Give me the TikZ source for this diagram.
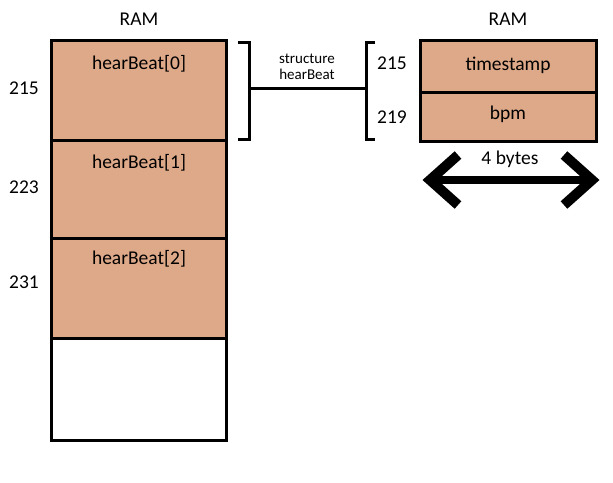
\documentclass[tikz,border=0pt]{standalone}
\usepackage{fontspec}
\setmainfont{Carlito}
\definecolor{peach}{RGB}{222,169,136}
\begin{document}
\begin{tikzpicture}[x=1pt,y=-1pt,
  cell/.style={draw=black,line width=3pt,fill=peach,minimum width=175pt,inner sep=0pt,outer sep=0pt},
  fld/.style={draw=black,line width=3pt,fill=peach,minimum width=176pt,inner sep=0pt,outer sep=0pt},
  lbl/.style={font=\fontsize{19.5}{23}\selectfont,inner sep=0pt},
  brk/.style={line width=3pt},
  big/.style={line width=10pt,line join=miter}]
\useasboundingbox (0,0) rectangle (613,482);
% left column
\node[cell,minimum height=99.5pt,anchor=north west] (c0) at (51.5,40.5) {};
\node[cell,minimum height=98pt,anchor=north west] (c1) at (c0.south west) {};
\node[cell,minimum height=100pt,anchor=north west] (c2) at (c1.south west) {};
\node[cell,fill=white,minimum height=102pt,anchor=north west] (c3) at (c2.south west) {};
\node[lbl] (t0) at (139,64) {hearBeat[0]};
\node[lbl] (t1) at (139,163) {hearBeat[1]};
\node[lbl] (t2) at (139,259) {hearBeat[2]};
\node[lbl] (ram1) at (139,19) {RAM};
\node[lbl] (a0) at (24,88) {215};
\node[lbl] (a1) at (24,187) {223};
\node[lbl] (a2) at (24,282) {231};
% right structure
\node[fld,minimum height=51.5pt,anchor=north west] (f0) at (420.5,40.5) {};
\node[fld,minimum height=49pt,anchor=north west] (f1) at (f0.south west) {};
\node[lbl] (ts) at (508,65) {timestamp};
\node[lbl] (bp) at (508,114) {bpm};
\node[lbl] (ram2) at (508,19) {RAM};
\node[lbl] (b0) at (392,63) {215};
\node[lbl] (b1) at (392,117) {219};
% brackets
\coordinate (lb) at (249,88);
\coordinate (rb) at (366,88);
\draw[brk] (238,42) -- (249,42) -- (249,139) -- (238,139);
\draw[brk] (375,42) -- (366,42) -- (366,139) -- (375,139);
\draw[brk] (lb) -- (rb);
\node[align=center,font=\fontsize{15}{16}\selectfont,inner sep=0pt] (st) at (307,67) {structure\\hearBeat};
% arrow
\coordinate (al) at (430,180);
\coordinate (ar) at (592,180);
\draw[line width=8pt] (al) -- (ar);
\draw[big] (458,155) -- (al) -- (458,205);
\draw[big] (564,155) -- (ar) -- (564,205);
\node[lbl] (w) at (510,159) {4 bytes};
\end{tikzpicture}
\end{document}
